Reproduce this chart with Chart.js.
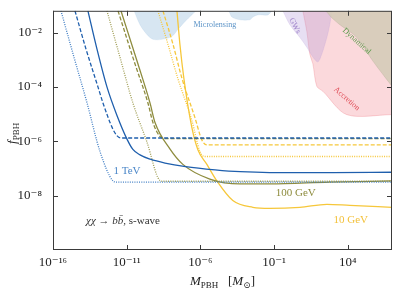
<!DOCTYPE html>
<html>
<head>
<meta charset="utf-8">
<script src="https://cdn.jsdelivr.net/npm/chart.js@4.4.0/dist/chart.umd.min.js"></script>
<style>
  html, body { margin: 0; padding: 0; background: #fff; }
</style>
</head>
<body>
<canvas id="chart" width="399" height="294"></canvas>
<script>
// axis ticks (powers of ten)
const xTickExps = [-16, -11, -6, -1, 4];
const yTickExps = [-8, -6, -4, -2];

// curves, each point is [log10 M_PBH, log10 f_PBH]
const tevSolid = [[-13.63, -1.2], [-13.02, -2.6], [-12.34, -4.0], [-11.66, -5.05], [-10.98, -5.92],
  [-10.58, -6.3], [-10.1, -6.5], [-9.4, -6.66], [-8.4, -6.8], [-7.0, -6.93], [-5.0, -7.05],
  [-3.3, -7.12], [-1.3, -7.15], [3, -7.15], [7, -7.14]];
const tevDashed = [[-14.51, -1.2], [-13.76, -2.61], [-12.95, -4.0], [-12.61, -4.59], [-11.93, -5.56],
  [-11.65, -5.8], [-11.4, -5.88], [7, -5.88]];
const tevDotted = [[-15.46, -1.2], [-14.58, -2.9], [-13.69, -4.59], [-12.81, -6.38], [-11.93, -7.46],
  [-11.73, -7.5], [7, -7.5]];

const gev100Solid = [[-11.39, -1.2], [-10.24, -3.15], [-9.42, -4.59], [-9.08, -5.31], [-8.07, -6.28],
  [-7.19, -6.85], [-5.36, -7.39], [-3.32, -7.57], [-1.29, -7.57], [2.78, -7.5], [7, -7.46]];
const gev100Dashed = [[-11.59, -1.2], [-10.44, -3.15], [-9.56, -4.59], [-9.22, -5.31], [-8.75, -5.82],
  [-8.41, -5.9], [7, -5.9]];
const gev100Dotted = [[-12.34, -1.2], [-11.46, -2.9], [-10.58, -4.59], [-9.63, -6.02], [-8.75, -7.44],
  [-8.54, -7.47], [7, -7.47]];

const gev10Solid = [[-7.59, -1.2], [-7.39, -2.43], [-7.12, -3.69], [-6.58, -5.49], [-6.17, -6.31],
  [-5.56, -6.85], [-4.88, -7.46], [-3.8, -8.18], [-2.44, -8.43], [-1.29, -8.47], [0.75, -8.43],
  [2.58, -8.32], [4.14, -8.36], [7, -8.43]];
const gev10Dashed = [[-8.54, -1.2], [-7.86, -2.43], [-7.25, -3.69], [-6.37, -5.13], [-5.9, -5.95],
  [-5.56, -6.13], [7, -6.13]];
const gev10Dotted = [[-8.88, -1.2], [-8.2, -2.43], [-7.53, -3.69], [-6.58, -5.23], [-6.03, -6.38],
  [-5.69, -6.56], [7, -6.56]];

// excluded regions (lower edge, filled up to the top of the plot)
const microlensing = [[-10.5, -1.2], [-10.1, -1.71], [-9.63, -2.07], [-9.22, -2.25], [-8.61, -2.25],
  [-7.93, -2.14], [-7.53, -1.89], [-7.05, -1.6], [-6.58, -1.35], [-6.24, -1.2], [-4.14, -1.2],
  [-3.86, -1.43], [-3.32, -1.53], [-2.64, -1.53], [-2.44, -1.43], [-2.1, -1.35], [-1.42, -1.35], [-1.15, -1.2]];
const gws = [[-0.41, -1.2], [0.07, -1.71], [0.75, -2.18], [1.22, -2.54], [1.63, -2.9], [1.97, -3.08],
  [2.24, -2.79], [2.58, -2.18], [2.78, -1.71], [2.92, -1.2]];
const accretion = [[0.95, -1.2], [1.22, -1.96], [1.42, -2.79], [1.63, -3.15], [1.9, -3.98], [2.31, -4.16],
  [3.93, -5.02], [7, -5.02]];
const dynamical = [[2.51, -1.2], [2.92, -1.46], [3.46, -1.71], [4.61, -2.18], [5.69, -3.04], [7, -3.98]];

const SERIF = '"Liberation Serif", "DejaVu Serif", serif';
const BLUE = '#1f5fad', BLUE_LT = '#3f7dc4';
const OLIVE = '#8e8c3e', OLIVE_LT = '#a09e55';
const YELLOW = '#f6c73a';

const pts = arr => arr.map(([m, f]) => ({ x: 10 ** m, y: 10 ** f }));
const SUP = { '-': '\u207B', '0': '\u2070', '1': '\u00B9', '2': '\u00B2', '3': '\u00B3', '4': '\u2074',
  '5': '\u2075', '6': '\u2076', '7': '\u2077', '8': '\u2078', '9': '\u2079' };
const powLabel = v => '10' + String(Math.round(Math.log10(v))).split('').map(c => SUP[c]).join('');

function curve(data, color, dash) {
  return {
    data: pts(data), showLine: true, borderColor: color, borderWidth: 1.3, borderDash: dash,
    pointRadius: 0, fill: false, cubicInterpolationMode: 'monotone', order: 1
  };
}
function region(data, fillColor, lineColor) {
  return {
    data: pts(data), showLine: true, fill: 'end', backgroundColor: fillColor, borderColor: lineColor,
    borderWidth: 0.6, pointRadius: 0, tension: 0.3, order: 10
  };
}

// in-plot labels: text pieces, anchor in data space, colour, size, rotation (deg)
const notes = [
  { parts: [['1 TeV']], m: -10.98, f: -7.1, color: '#4a86c8', size: 11, rot: 0 },
  { parts: [['100 GeV']], m: 0.47, f: -7.89, color: OLIVE, size: 11, rot: 0 },
  { parts: [['10 GeV']], m: 4.2, f: -8.9, color: '#f3c13a', size: 11, rot: 0 },
  { parts: [['χχ', 'italic'], [' → '], ['bb\u0304', 'italic'], [', s-wave']], m: -11.25, f: -8.93, color: '#333', size: 11, rot: 0 },
  { parts: [['Microlensing']], m: -5.02, f: -1.71, color: '#5b93c7', size: 8, rot: 0 },
  { parts: [['GWs']], m: 0.41, f: -1.75, color: '#9b7fc8', size: 8, rot: 62 },
  { parts: [['Dynamical']], m: 4.61, f: -2.32, color: '#5a9a4a', size: 8, rot: 42 },
  { parts: [['Accretion']], m: 3.93, f: -4.44, color: '#e0505a', size: 8, rot: 41 }
];

function drawRich(ctx, parts, size) {
  // parts: [text, style, sub]; draws centred around (0,0)
  const fontOf = p => (p[1] === 'italic' ? 'italic ' : '') + (p[2] ? Math.round(size * 0.7) : size) + 'px ' + SERIF;
  let w = 0;
  parts.forEach(p => { ctx.font = fontOf(p); w += ctx.measureText(p[0]).width; });
  let x = -w / 2;
  ctx.textAlign = 'left';
  ctx.textBaseline = 'middle';
  parts.forEach(p => {
    ctx.font = fontOf(p);
    ctx.fillText(p[0], x, p[2] ? size * 0.3 : 0);
    x += ctx.measureText(p[0]).width;
  });
}

const decor = {
  id: 'decor',
  afterDatasetsDraw(chart) {
    const { ctx, chartArea: a, scales: { x, y } } = chart;
    ctx.save();
    ctx.strokeStyle = '#3a3a3a';
    ctx.lineWidth = 1;
    ctx.strokeRect(a.left + 0.5, a.top + 0.5, a.right - a.left - 1, a.bottom - a.top - 1);
    const len = 5;
    ctx.beginPath();
    xTickExps.forEach(e => {
      const px = Math.round(x.getPixelForValue(10 ** e)) + 0.5;
      ctx.moveTo(px, a.bottom); ctx.lineTo(px, a.bottom - len);
      ctx.moveTo(px, a.top); ctx.lineTo(px, a.top + len);
    });
    yTickExps.forEach(e => {
      const py = Math.round(y.getPixelForValue(10 ** e)) + 0.5;
      ctx.moveTo(a.left, py); ctx.lineTo(a.left + len, py);
      ctx.moveTo(a.right, py); ctx.lineTo(a.right - len, py);
    });
    ctx.stroke();

    notes.forEach(n => {
      ctx.save();
      ctx.translate(x.getPixelForValue(10 ** n.m), y.getPixelForValue(10 ** n.f));
      ctx.rotate(n.rot * Math.PI / 180);
      ctx.fillStyle = n.color;
      drawRich(ctx, n.parts, n.size);
      ctx.restore();
    });

    // axis titles
    ctx.fillStyle = '#222';
    ctx.save();
    ctx.translate((a.left + a.right) / 2, 282);
    drawRich(ctx, [['M', 'italic'], ['PBH', '', true], ['   ['], ['M', 'italic'], ['\u2299', '', true], [']']], 13);
    ctx.restore();
    ctx.save();
    ctx.translate(13, (a.top + a.bottom) / 2 + 3);
    ctx.rotate(-Math.PI / 2);
    drawRich(ctx, [['f', 'italic'], ['PBH', '', true]], 13);
    ctx.restore();
    ctx.restore();
  }
};

const tickFont = { family: SERIF, size: 13 };

new Chart(document.getElementById('chart'), {
  type: 'scatter',
  data: {
    datasets: [
      curve(tevSolid, BLUE, []),
      curve(tevDashed, BLUE, [4, 2]),
      curve(tevDotted, BLUE_LT, [1, 1.3]),
      curve(gev100Solid, OLIVE, []),
      curve(gev100Dashed, OLIVE, [4, 2]),
      curve(gev100Dotted, OLIVE_LT, [1, 1.3]),
      curve(gev10Solid, YELLOW, []),
      curve(gev10Dashed, YELLOW, [4, 2]),
      curve(gev10Dotted, YELLOW, [1, 1.3]),
      region(dynamical, 'rgba(214,204,186,0.92)', 'rgba(170,165,140,0.5)'),
      region(gws, 'rgba(175,150,215,0.3)', 'rgba(175,150,215,0.3)'),
      region(accretion, 'rgba(240,120,130,0.28)', 'rgba(235,110,120,0.45)'),
      region(microlensing, 'rgba(110,165,210,0.28)', 'rgba(110,165,210,0.2)')
    ]
  },
  options: {
    responsive: false,
    animation: false,
    devicePixelRatio: 1,
    layout: { padding: { top: 6, right: 7, left: 0, bottom: 0 } },
    plugins: { legend: { display: false }, tooltip: { enabled: false } },
    scales: {
      x: {
        type: 'logarithmic', min: 1e-16, max: 1e7,
        afterBuildTicks: s => { s.ticks = xTickExps.map(e => ({ value: 10 ** e })); },
        afterFit: s => { s.height = 44; },
        grid: { display: false }, border: { display: false },
        ticks: { callback: powLabel, font: tickFont, color: '#222', padding: -3, maxRotation: 0, autoSkip: false }
      },
      y: {
        type: 'logarithmic', min: 1e-10, max: 10 ** -1.2,
        afterBuildTicks: s => { s.ticks = yTickExps.map(e => ({ value: 10 ** e })); },
        afterFit: s => { s.width = 53; },
        grid: { display: false }, border: { display: false },
        ticks: { callback: powLabel, font: tickFont, color: '#222', padding: 3, autoSkip: false }
      }
    }
  },
  plugins: [decor]
});
</script>
</body>
</html>
